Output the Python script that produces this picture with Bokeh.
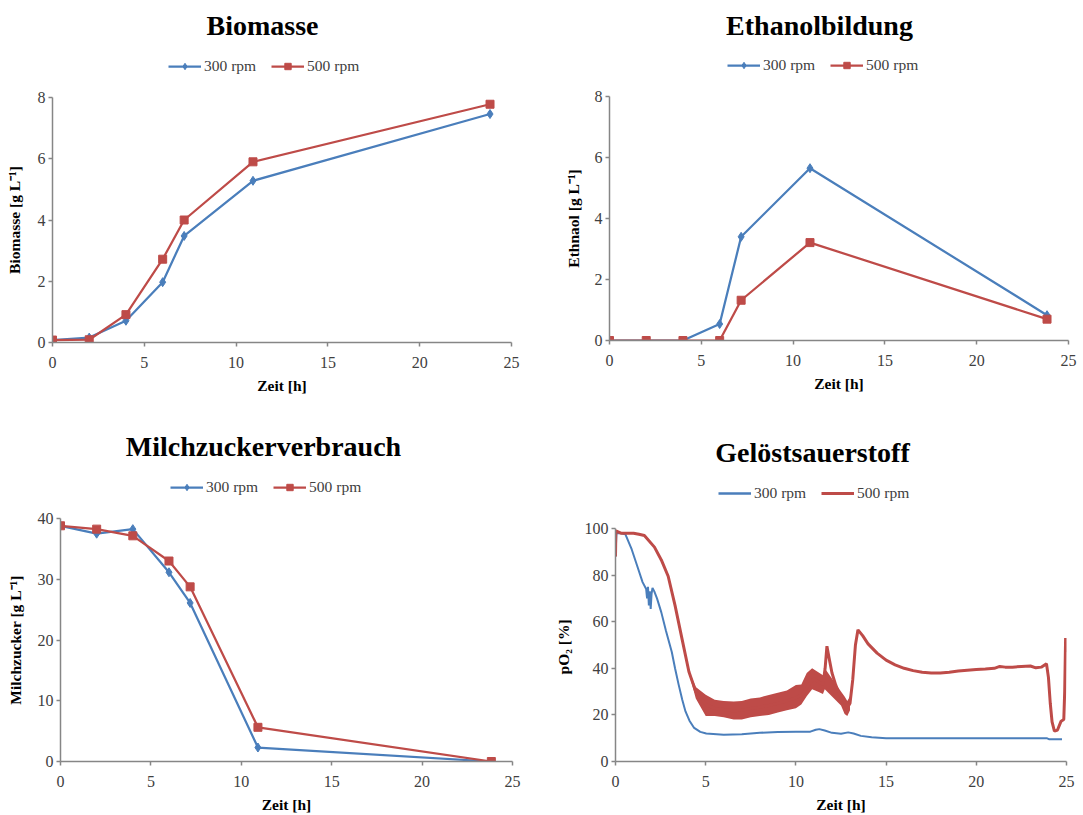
from bokeh.plotting import figure
from bokeh.models import Range1d, FixedTicker, Label, Legend, LegendItem
from bokeh.layouts import column, row
from bokeh.core.properties import value
from bokeh.embed import file_html
from bokeh.resources import INLINE

# ---------------- data ----------------
zeit = [0, 2, 4, 6, 7.17, 10.92, 23.83]

biomasse_300 = [0.08, 0.16, 0.71, 1.97, 3.48, 5.28, 7.46]
biomasse_500 = [0.08, 0.09, 0.91, 2.72, 4.00, 5.90, 7.78]

ethanol_300 = [0.0, 0.0, 0.0, 0.54, 3.40, 5.65, 0.83]
ethanol_500 = [0.0, 0.0, 0.0, 0.0, 1.32, 3.21, 0.70]

zucker_300 = [38.8, 37.5, 38.25, 31.15, 26.1, 2.3, 0.0]
zucker_500 = [38.8, 38.25, 37.15, 33.0, 28.75, 5.63, 0.0]

o2_300_t = [0, 0.05, 0.3, 0.55, 0.9, 1.2, 1.5, 1.7, 1.75, 1.8, 1.85, 1.9, 1.95,
            2.0, 2.05, 2.15, 2.3, 2.54, 2.8, 3.12, 3.3, 3.5, 3.7, 3.88, 4.1,
            4.36, 4.7, 5.03, 6.0, 7.0, 8.0, 9.0, 10.0, 10.8, 11.1, 11.3, 11.6,
            12.0, 12.5, 12.9, 13.2, 13.6, 14.2, 15.0, 20.0, 23.9, 24.05, 24.75]
o2_300 = [88, 98, 98, 97.5, 91, 84, 77, 74, 70, 75, 67, 73, 65.5,
          72, 74.5, 73, 70, 64, 56, 47, 40, 33, 26.5, 21.5, 17.5,
          14.4, 12.7, 12.0, 11.5, 11.7, 12.3, 12.7, 12.8, 12.8, 13.6, 13.9, 13.3,
          12.3, 11.9, 12.5, 12.0, 11.0, 10.4, 10.0, 10.0, 10.0, 9.5, 9.5]

o2_500_t = [0, 0.02, 0.3, 0.6, 1.0, 1.3, 1.6, 2.16, 2.54, 2.92, 3.3, 3.69,
            4.07, 4.45, 5.03, 5.5, 6.0, 6.5, 7.0, 7.5, 8.0, 8.5, 9.0, 9.5,
            10.0, 10.4, 10.7, 11.0, 11.3, 11.5, 11.62, 11.72, 11.85, 12.0,
            12.2, 12.4, 12.6, 12.85, 13.0, 13.15, 13.3, 13.44, 13.7, 14.0,
            14.5, 15.0, 15.5, 16.0, 16.5, 17.0, 17.5, 18.0, 18.5, 19.0, 19.5,
            20.0, 20.5, 21.0, 21.3, 21.6, 22.0, 22.5, 23.0, 23.3, 23.6, 23.89,
            24.0, 24.1, 24.2, 24.33, 24.5, 24.7, 24.85, 24.9, 24.95, 25.0]
o2_500 = [88, 99, 98, 98, 98, 97.5, 97, 92, 86.5, 79.5, 67, 52.5,
          38.5, 30, 24.3, 22.8, 22.3, 21.8, 22, 22.8, 23.3, 24, 25, 26,
          27.3, 29, 33, 35.5, 34, 33, 40, 49.5, 44, 38,
          33, 29, 27, 23, 25, 35, 50, 56.5, 54, 50.5,
          46.5, 43.5, 41.5, 40, 39, 38.3, 38, 38, 38.3, 38.8, 39.2,
          39.5, 39.7, 40, 40.8, 40.5, 40.5, 40.8, 41, 40.2, 40.5, 42,
          36, 25, 17, 13, 13.5, 17.3, 18, 30, 53, 47]

# envelope of the fluctuating 500 rpm signal
band_t = [4.07, 4.45, 5.0, 5.5, 6.0, 6.55, 7.0, 7.5, 8.0, 8.5, 9.0, 9.5, 10.0,
          10.3, 10.6, 10.9, 11.2, 11.5, 11.6, 12.5, 12.7, 12.85, 13.0]
band_lo = [38, 27, 19.5, 19.5, 19, 18, 18, 19, 19.5, 20, 21, 22, 22.9,
           24.5, 28, 31, 30, 29, 31, 24, 20.4, 19.5, 22]
band_hi = [39, 32, 28.6, 26.5, 26, 25.7, 26, 27, 27.5, 28.5, 29.5, 30.5, 32.8,
           33, 38, 40, 38.5, 37, 40, 30, 27.9, 26, 28]

x_ticks = [0, 5, 10, 15, 20, 25]
series_labels = ["300 rpm", "500 rpm"]

# ---------------- style ----------------
BLUE = "#4A7EBB"
RED = "#BE4B48"
AXIS = "#868686"
TICK_TEXT = "#404040"
FONT = "Liberation Serif"


def make_fig(w, h, left, right, top, bottom, ymax, yticks, ylabel,
             ylab_standoff, xlab_standoff):
    p = figure(width=w, height=h, x_range=Range1d(0, 25), y_range=Range1d(0, ymax),
               output_backend="svg", toolbar_location=None, title_location=None,
               min_border_left=left, min_border_right=right,
               min_border_top=top, min_border_bottom=bottom,
               background_fill_color="white", border_fill_color="white",
               outline_line_color=None)
    p.grid.visible = False
    p.xaxis.ticker = FixedTicker(ticks=x_ticks)
    p.yaxis.ticker = FixedTicker(ticks=yticks)
    for ax in (p.xaxis[0], p.yaxis[0]):
        ax.axis_line_color = AXIS
        ax.axis_line_width = 1.5
        ax.major_tick_line_color = AXIS
        ax.major_tick_line_width = 1.5
        ax.major_tick_out = 4
        ax.major_tick_in = 0
        ax.minor_tick_line_color = None
        ax.major_label_text_font = FONT
        ax.major_label_text_font_size = "16px"
        ax.major_label_text_color = TICK_TEXT
        ax.axis_label_text_font = FONT
        ax.axis_label_text_font_size = "15.5px"
        ax.axis_label_text_font_style = "bold"
        ax.axis_label_text_color = "black"
    p.yaxis.major_label_standoff = 3
    p.xaxis.major_label_standoff = 10
    p.xaxis.axis_label = "Zeit [h]"
    p.yaxis.axis_label = ylabel
    p.yaxis.axis_label_standoff = ylab_standoff
    p.xaxis.axis_label_standoff = xlab_standoff
    return p


def make_header(w, h, title, tx, ty, with_markers, lx, ly):
    # tx / lx are measured from the (aligned) frame's left edge
    hd = figure(width=w, height=h, x_range=Range1d(0, 10), y_range=Range1d(0, 10),
                output_backend="svg", toolbar_location=None, title_location=None,
                x_axis_type=None, y_axis_type=None, min_border=0,
                background_fill_color="white", border_fill_color="white",
                outline_line_color=None)
    hd.grid.visible = False
    hd.add_layout(Label(x=tx, y=ty, x_units="screen", y_units="screen", text=title,
                        text_align="center", text_baseline="middle",
                        text_font=FONT, text_font_size="28px",
                        text_font_style="bold", text_color="black"))
    # legend-only renderers, kept outside the visible range
    off = [-100, -99]
    r1 = [hd.line(off, off, line_color=BLUE, line_width=2.25 if with_markers else 2.5)]
    r2 = [hd.line(off, off, line_color=RED, line_width=2.25 if with_markers else 3)]
    if with_markers:
        r1.append(hd.scatter(off, off, marker="diamond", size=9,
                             fill_color=BLUE, line_color=BLUE))
        r2.append(hd.scatter(off, off, marker="square", size=8,
                             fill_color=RED, line_color=RED))
    items = [LegendItem(label=value(series_labels[0]), renderers=r1),
             LegendItem(label=value(series_labels[1]), renderers=r2)]
    leg = Legend(items=items, orientation="horizontal", location=(lx, ly),
                 glyph_width=33, glyph_height=16, label_height=16,
                 label_standoff=3, spacing=15, padding=0, margin=0,
                 border_line_color=None, background_fill_alpha=0,
                 label_text_font=FONT, label_text_font_size="15.5px",
                 label_text_color=TICK_TEXT)
    hd.add_layout(leg, "center")
    return hd


def marker_series(p, ys_300, ys_500):
    p.line(zeit, ys_300, line_color=BLUE, line_width=2.25)
    p.scatter(zeit, ys_300, marker="diamond", size=9, fill_color=BLUE,
              line_color=BLUE)
    p.line(zeit, ys_500, line_color=RED, line_width=2.25)
    p.scatter(zeit, ys_500, marker="square", size=8, fill_color=RED,
              line_color=RED)


# Panel 1: Biomasse
h1 = make_header(541, 85, "Biomasse", 210, 60, True, 116, 10)
p1 = make_fig(541, 322, 52, 30, 12, 65, 8, [0, 2, 4, 6, 8],
              "Biomasse [g L\u207b\u00b9]", 12, 6)
marker_series(p1, biomasse_300, biomasse_500)

# Panel 2: Ethanolbildung
h2 = make_header(542, 85, "Ethanolbildung", 210, 60, True, 118, 11)
p2 = make_fig(542, 322, 68, 15, 11, 67, 8, [0, 2, 4, 6, 8],
              "Ethnaol [g L\u207b\u00b9]", 10, 6)
marker_series(p2, ethanol_300, ethanol_500)

# Panel 3: Milchzuckerverbrauch
h3 = make_header(541, 100, "Milchzuckerverbrauch", 203, 61, True, 110, 11)
p3 = make_fig(541, 308, 60, 29, 11, 53, 40, [0, 10, 20, 30, 40],
              "Milchzucker [g L\u207b\u00b9]", 11, 6)
marker_series(p3, zucker_300, zucker_500)

# Panel 4: Gelöstsauerstoff
h4 = make_header(542, 100, "Gelöstsauerstoff", 197, 55, False, 103, 5)
p4 = make_fig(542, 308, 74, 17, 21, 51, 100, [0, 20, 40, 60, 80, 100],
              "pO\u2082  [%]", 10, 6)
p4.line(o2_300_t, o2_300, line_color=BLUE, line_width=2)
p4.varea(x=band_t, y1=band_lo, y2=band_hi, fill_color=RED)
p4.line(o2_500_t, o2_500, line_color=RED, line_width=3)

layout = column(row(column(h1, p1), column(h2, p2)),
                row(column(h3, p3), column(h4, p4)))

open("out.html", "w").write(file_html(layout, INLINE))
